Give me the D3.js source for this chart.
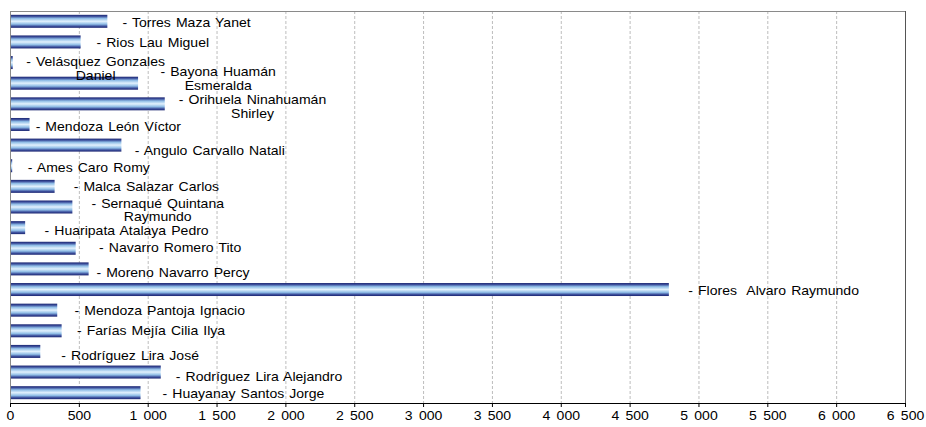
<!DOCTYPE html>
<html>
<head>
<meta charset="utf-8">
<script src="https://cdn.jsdelivr.net/npm/d3@7"></script>
<style>
    body { margin: 0; background: #fff; }
    text { font-family: "Liberation Sans", Arial, sans-serif; font-size: 12px; fill: #000; }
    .grid line { stroke: #bdbdbd; stroke-dasharray: 3,2; }
    .axis--x path, .axis--x line { stroke: #000; }
    .axis--x text { word-spacing: 2px; }
    .label text { word-spacing: 1px; }
</style>
</head>
<body>
<svg id="chart" width="926" height="427"></svg>
<script>
// nombres (top to bottom) y montos
var names = [
    "Torres Maza Yanet",
    "Rios Lau Miguel",
    "Velásquez Gonzales\nDaniel",
    "Bayona Huamán\nEsmeralda",
    "Orihuela Ninahuamán\nShirley",
    "Mendoza León Víctor",
    "Angulo Carvallo Natali",
    "Ames Caro Romy",
    "Malca Salazar Carlos",
    "Sernaqué Quintana\nRaymundo",
    "Huaripata Atalaya Pedro",
    "Navarro Romero Tito",
    "Moreno Navarro Percy",
    "Flores  Alvaro Raymundo",
    "Mendoza Pantoja Ignacio",
    "Farías Mejía Cilia Ilya",
    "Rodríguez Lira José",
    "Rodríguez Lira Alejandro",
    "Huayanay Santos Jorge"
];
var values = [707, 513, 20, 930, 1124, 142, 809, 16, 324, 453, 110, 477, 571, 4785, 343, 375, 220, 1095, 948];
var xTicks = [0, 500, 1000, 1500, 2000, 2500, 3000, 3500, 4000, 4500, 5000, 5500, 6000, 6500];

// where each data label was dragged to, relative to the bar end / band centre (px)
var labelNudge = [
    [15, 1.4], [15.7, 0.8], [13.4, -0.9], [22.4, -11.5], [14, -3.8], [6, 2.2],
    [13.3, 5.6], [15.6, 1.6], [19, 0.3], [19, -3.7], [19.3, 3.1], [23.3, 0],
    [7.7, 3.4], [19.3, 1.5], [17.3, 0.8], [15.3, 0.2], [21, 4.6], [15, 4.6], [22, 1.6]
];

var stretch = 1.17; // the original text is drawn a bit wide

var svg = d3.select("#chart")
    , margin = {top: 11, right: 21, bottom: 24, left: 10}
    , width = +svg.attr("width") - margin.left - margin.right
    , height = +svg.attr("height") - margin.top - margin.bottom
    , g = svg.append("g").attr("transform", "translate(" + margin.left + "," + margin.top + ")")
    ;

var x = d3.scaleLinear().domain([0, 6500]).range([0, width]);
var y = d3.scaleBand().domain(d3.range(names.length)).range([0, height]).paddingInner(0.37).paddingOuter(0.185);

// bar gradient: dark edges, pale centre
var grad = svg.append("defs").append("linearGradient")
    .attr("id", "barGrad")
    .attr("x1", 0).attr("y1", 0).attr("x2", 0).attr("y2", 1);
[["0%", "#1b2570"], ["12%", "#3c4f9c"], ["28%", "#8fbde6"], ["50%", "#e2f1fd"],
 ["72%", "#8fbde6"], ["88%", "#3c4f9c"], ["100%", "#1b2570"]].forEach(function(s) {
    grad.append("stop").attr("offset", s[0]).attr("stop-color", s[1]);
});

// dashed grid
g.append("g")
    .attr("class", "grid")
    .selectAll("line")
    .data(xTicks.slice(1, -1))
    .enter().append("line")
    .attr("x1", function(d) { return x(d) + 0.5; })
    .attr("x2", function(d) { return x(d) + 0.5; })
    .attr("y1", 0)
    .attr("y2", height);

// frame: top grey, left grey, right dark
g.append("line").attr("x1", 0).attr("x2", width).attr("y1", 0.5).attr("y2", 0.5).attr("stroke", "#8a8a8a");
g.append("line").attr("x1", 0.5).attr("x2", 0.5).attr("y1", 0).attr("y2", height + 1).attr("stroke", "#8a8a8a");
g.append("line").attr("x1", width + 0.5).attr("x2", width + 0.5).attr("y1", 0).attr("y2", height).attr("stroke", "#555");

g.selectAll(".bar")
    .data(values)
    .enter().append("rect")
    .attr("class", "bar")
    .attr("x", 1)
    .attr("y", function(d, i) { return y(i); })
    .attr("width", function(d) { return Math.max(0, x(d) - 1); })
    .attr("height", y.bandwidth())
    .attr("fill", "url(#barGrad)");

g.append("g")
    .attr("class", "axis axis--x")
    .attr("transform", "translate(0," + height + ")")
    .call(d3.axisBottom(x)
        .tickValues(xTicks)
        .tickSize(4)
        .tickSizeOuter(0)
        .tickPadding(4)
        .tickFormat(function(d) { return d3.format(",")(d).replace(/,/g, " "); }))
    .call(function(a) {
        a.selectAll("text")
            .style("font-size", "12px")
            .style("white-space", "pre")
            .attr("transform", "scale(" + stretch + ",1)");
    });

// data labels
var labels = g.selectAll(".label")
    .data(names)
    .enter().append("g")
    .attr("class", "label");

labels.each(function(d, i) {
    var lg = d3.select(this)
        , lines = ("- " + d).split("\n")
        , t = lg.append("text").attr("text-anchor", "middle").style("white-space", "pre");
    lines.forEach(function(l, k) {
        t.append("tspan")
            .attr("x", 0)
            .attr("dy", k === 0 ? "0.35em" : "14px")
            .text(l);
    });
    var bb = t.node().getBBox();
    var left = x(values[i]) + labelNudge[i][0];
    var cy = y(i) + y.bandwidth() / 2 + labelNudge[i][1];
    lg.attr("transform", "translate(" + (left - bb.x * stretch) + "," + cy + ") scale(" + stretch + ",1)");
});
</script>
</body>
</html>
